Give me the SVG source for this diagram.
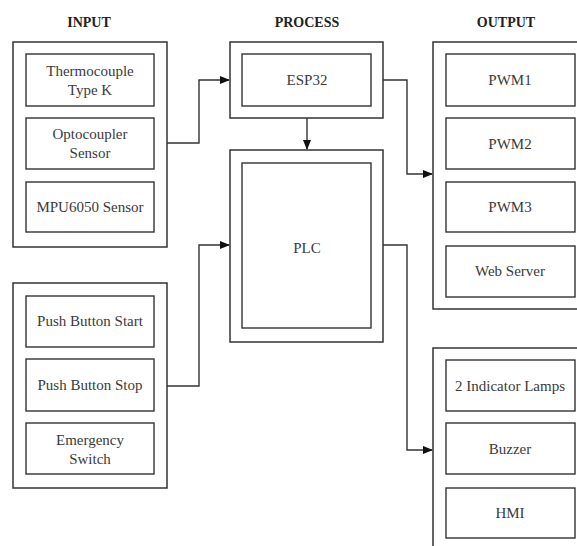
<svg xmlns="http://www.w3.org/2000/svg" width="577" height="546" viewBox="0 0 577 546" font-family="Liberation Serif">
<defs>
<style>
.o{fill:#fff;stroke:#333;stroke-width:1.5}
.i{fill:#fff;stroke:#333;stroke-width:1.4}
.t{font-size:15px;fill:#3a3a3a;text-anchor:middle}
.h{font-size:14px;font-weight:bold;fill:#222;text-anchor:middle}
.c{fill:none;stroke:#333;stroke-width:1.4}
</style>
<marker id="ah" viewBox="0 0 10 10" refX="9" refY="5" markerWidth="10" markerHeight="10" markerUnits="userSpaceOnUse" orient="auto">
<path d="M0,1 L10,5 L0,9 Z" fill="#111"/>
</marker>
</defs>
<rect width="577" height="546" fill="#fff"/>
<g id="titles" font-family="Liberation Serif">
<text class="h" x="89" y="27" font-family="Liberation Serif">INPUT</text>
<text class="h" x="307" y="27" font-family="Liberation Serif">PROCESS</text>
<text class="h" x="506" y="27" font-family="Liberation Serif">OUTPUT</text>
</g>
<g id="connectors">
<path class="c" d="M167,143 H199 V80 H229" marker-end="url(#ah)"/>
<path class="c" d="M167,386 H199 V245 H229" marker-end="url(#ah)"/>
<path class="c" d="M307,118 V149" marker-end="url(#ah)"/>
<path class="c" d="M383,80 H407 V174 H432" marker-end="url(#ah)"/>
<path class="c" d="M383,245 H407 V450 H432" marker-end="url(#ah)"/>
</g>
<g id="input1" font-family="Liberation Serif">
<rect class="o" x="13" y="42" width="154" height="205"/>
<g id="thermocouple"><rect class="i" x="26" y="54" width="128" height="52"/><text class="t" x="90" y="76" font-family="Liberation Serif">Thermocouple</text><text class="t" x="90" y="95" font-family="Liberation Serif">Type K</text></g>
<g id="optocoupler"><rect class="i" x="26" y="118" width="128" height="51"/><text class="t" x="90" y="139" font-family="Liberation Serif">Optocoupler</text><text class="t" x="90" y="158" font-family="Liberation Serif">Sensor</text></g>
<g id="mpu6050"><rect class="i" x="26" y="182" width="128" height="50"/><text class="t" x="90" y="212" font-family="Liberation Serif">MPU6050 Sensor</text></g>
</g>
<g id="input2" font-family="Liberation Serif">
<rect class="o" x="13" y="283" width="154" height="205"/>
<g id="pbstart"><rect class="i" x="26" y="296" width="128" height="51"/><text class="t" x="90" y="326" font-family="Liberation Serif">Push Button Start</text></g>
<g id="pbstop"><rect class="i" x="26" y="359" width="128" height="52"/><text class="t" x="90" y="390" font-family="Liberation Serif">Push Button Stop</text></g>
<g id="emergency"><rect class="i" x="26" y="423" width="128" height="51"/><text class="t" x="90" y="445" font-family="Liberation Serif">Emergency</text><text class="t" x="90" y="464" font-family="Liberation Serif">Switch</text></g>
</g>
<g id="esp32" font-family="Liberation Serif">
<rect class="o" x="230" y="42" width="153" height="76"/>
<rect class="i" x="242" y="54" width="129" height="52"/>
<text class="t" x="307" y="85" font-family="Liberation Serif">ESP32</text>
</g>
<g id="plc" font-family="Liberation Serif">
<rect class="o" x="230" y="150" width="153" height="192"/>
<rect class="i" x="242" y="163" width="129" height="165"/>
<text class="t" x="307" y="253" font-family="Liberation Serif">PLC</text>
</g>
<g id="output1" font-family="Liberation Serif">
<rect class="o" x="433" y="42" width="150" height="267"/>
<g id="pwm1"><rect class="i" x="446" y="54" width="129" height="52"/><text class="t" x="510" y="85" font-family="Liberation Serif">PWM1</text></g>
<g id="pwm2"><rect class="i" x="446" y="118" width="129" height="51"/><text class="t" x="510" y="149" font-family="Liberation Serif">PWM2</text></g>
<g id="pwm3"><rect class="i" x="446" y="182" width="129" height="50"/><text class="t" x="510" y="212" font-family="Liberation Serif">PWM3</text></g>
<g id="webserver"><rect class="i" x="446" y="246" width="129" height="51"/><text class="t" x="510" y="276" font-family="Liberation Serif">Web Server</text></g>
</g>
<g id="output2" font-family="Liberation Serif">
<rect class="o" x="433" y="348" width="150" height="210"/>
<g id="lamps"><rect class="i" x="446" y="360" width="129" height="51"/><text class="t" x="510" y="391" font-family="Liberation Serif">2 Indicator Lamps</text></g>
<g id="buzzer"><rect class="i" x="446" y="423" width="129" height="51"/><text class="t" x="510" y="454" font-family="Liberation Serif">Buzzer</text></g>
<g id="hmi"><rect class="i" x="446" y="488" width="129" height="50"/><text class="t" x="510" y="518" font-family="Liberation Serif">HMI</text></g>
</g>
</svg>
